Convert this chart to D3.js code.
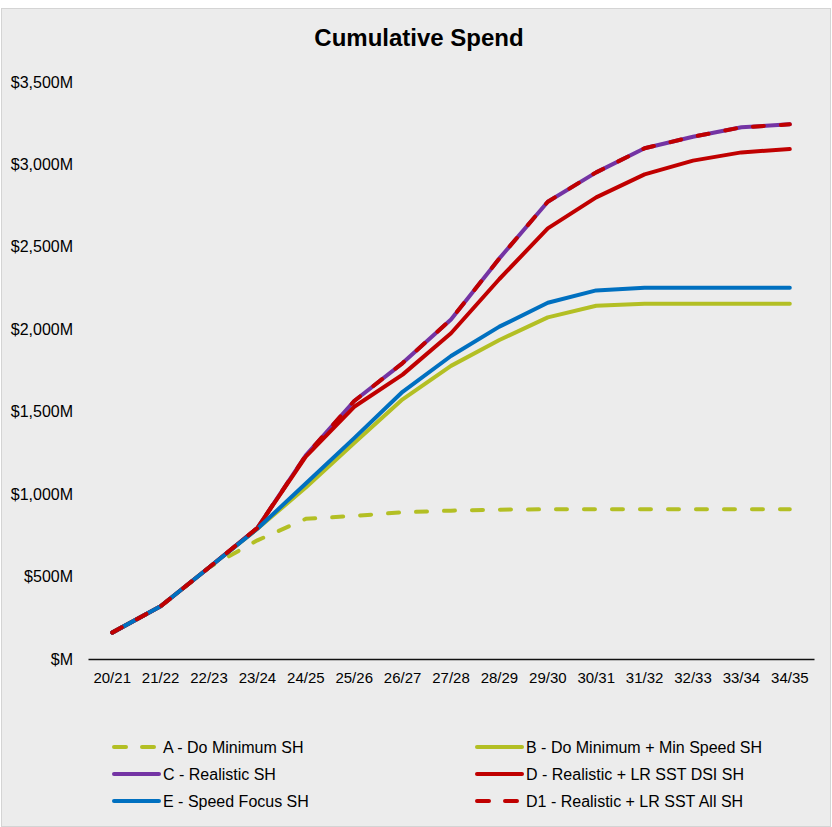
<!DOCTYPE html>
<html>
<head>
<meta charset="utf-8">
<script src="https://cdn.jsdelivr.net/npm/d3@7"></script>
<style>
  body { margin: 0; background: #fff; }
  text { font-family: "Liberation Sans", Arial, sans-serif; }
</style>
</head>
<body>
<svg width="832" height="827"></svg>
<script>
var years = ["20/21", "21/22", "22/23", "23/24", "24/25", "25/26", "26/27", "27/28",
             "28/29", "29/30", "30/31", "31/32", "32/33", "33/34", "34/35"];
var yTicks = [0, 500, 1000, 1500, 2000, 2500, 3000, 3500];

var seriesA  = [160, 320, 555, 720, 850, 868, 890, 900, 906, 908, 908, 908, 908, 908, 908];
var seriesB  = [160, 320, 555, 790, 1040, 1310, 1575, 1778, 1935, 2072, 2143, 2155, 2155, 2155, 2155];
var seriesC  = [160, 320, 555, 795, 1235, 1565, 1795, 2060, 2430, 2774, 2952, 3098, 3168, 3225, 3243];
var seriesD  = [160, 320, 555, 795, 1227, 1530, 1725, 1976, 2305, 2612, 2800, 2940, 3023, 3073, 3093];
var seriesE  = [160, 320, 555, 790, 1065, 1340, 1621, 1838, 2016, 2161, 2236, 2252, 2252, 2252, 2252];
var seriesD1 = [160, 320, 555, 795, 1235, 1565, 1795, 2060, 2430, 2774, 2952, 3098, 3168, 3225, 3243];

var names = ["A - Do Minimum SH", "B - Do Minimum + Min Speed SH", "C - Realistic SH",
             "D - Realistic + LR SST DSI SH", "E - Speed Focus SH", "D1 - Realistic + LR SST All SH"];

var green = "#b3bf24", purple = "#7434a4", red = "#c00000", blue = "#0070c0";

// drawing order matters: E over D, D1 on top of everything
var series = [
  {name: names[0], values: seriesA,  color: green,  dash: "11,17"},
  {name: names[1], values: seriesB,  color: green,  dash: null},
  {name: names[2], values: seriesC,  color: purple, dash: null},
  {name: names[3], values: seriesD,  color: red,    dash: null},
  {name: names[4], values: seriesE,  color: blue,   dash: null},
  {name: names[5], values: seriesD1, color: red,    dash: "11,17"}
];

var svg = d3.select("svg");

svg.append("rect")
    .attr("x", 1.5).attr("y", 8.5)
    .attr("width", 829).attr("height", 818)
    .attr("fill", "#ececec")
    .attr("stroke", "#d4d4d4");

svg.append("text")
    .attr("x", 419).attr("y", 46)
    .attr("text-anchor", "middle")
    .attr("font-size", 24)
    .attr("font-weight", "bold")
    .text("Cumulative Spend");

var x = d3.scaleBand().domain(years).range([88, 814]);
var y = d3.scaleLinear().domain([0, 3500]).range([659, 82]);

// y axis labels only
svg.append("g")
    .attr("transform", "translate(78,0)")
    .call(d3.axisLeft(y).tickValues(yTicks).tickSize(0).tickPadding(5)
      .tickFormat(function(d) { return d === 0 ? "$M" : "$" + d3.format(",")(d) + "M"; }))
    .call(function(g) { g.select(".domain").remove(); })
    .selectAll("text")
      .attr("font-size", 16)
      .attr("fill", "#000");

var xAxis = svg.append("g")
    .attr("transform", "translate(0,659)")
    .call(d3.axisBottom(x).tickSize(0).tickPadding(13));
xAxis.select(".domain").attr("stroke", "#111").attr("stroke-width", 1.5);
xAxis.selectAll("text").attr("font-size", 15).attr("fill", "#000");

var line = d3.line()
    .x(function(d, i) { return x(years[i]) + x.bandwidth() / 2; })
    .y(function(d) { return y(d); });

svg.append("g")
  .selectAll("path")
  .data(series)
  .enter().append("path")
    .attr("d", function(d) { return line(d.values); })
    .attr("fill", "none")
    .attr("stroke", function(d) { return d.color; })
    .attr("stroke-width", 4)
    .attr("stroke-linecap", "round")
    .attr("stroke-linejoin", "round")
    .attr("stroke-dasharray", function(d) { return d.dash; });

// legend: two columns, three rows, row order A B / C D / E D1
var legend = svg.append("g")
  .selectAll("g")
  .data(series)
  .enter().append("g")
    .attr("transform", function(d, i) {
      return "translate(" + (i % 2 === 0 ? 112 : 475) + "," + (747 + Math.floor(i / 2) * 27) + ")";
    });
legend.append("line")
    .attr("x1", 2).attr("x2", 47)
    .attr("stroke", function(d) { return d.color; })
    .attr("stroke-width", 4)
    .attr("stroke-linecap", "round")
    .attr("stroke-dasharray", function(d) { return d.dash ? "12,16" : null; });
legend.append("text")
    .attr("x", 51)
    .attr("dy", "0.35em")
    .attr("font-size", 16)
    .attr("fill", "#000")
    .text(function(d) { return d.name; });
</script>
</body>
</html>
